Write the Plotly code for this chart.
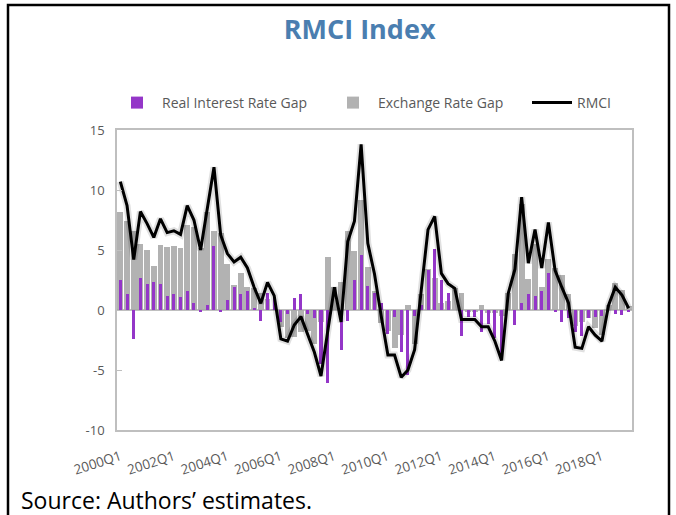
import plotly.graph_objects as go

quarters = [f"{y}Q{q}" for y in range(2000, 2020) for q in range(1, 5)][:77]

rmci = [10.7, 8.7, 4.2, 8.2, 7.2, 6.05, 7.6, 6.45, 6.6, 6.3,
        8.7, 7.5, 5.0, 8.6, 11.9, 6.25, 4.7, 4.0, 4.4, 3.5,
        1.9, 0.55, 2.3, 1.2, -2.4, -2.6, -1.25, -0.55, -2.1, -3.5,
        -5.5, -1.7, 1.9, -1.0, 5.7, 7.4, 13.8, 5.55, 3.0, -0.5,
        -3.75, -3.75, -5.6, -5.0, -3.3, 1.7, 6.7, 7.8, 3.05, 2.2,
        1.8, -0.8, -0.8, -0.8, -1.4, -1.4, -2.6, -4.2, 1.4, 3.4,
        9.4, 3.9, 6.7, 3.5, 7.3, 3.3, 1.9, 0.6, -3.1, -3.2,
        -1.4, -2.1, -2.6, 0.4, 1.9, 1.25, 0.15]

real_rate_gap = [2.5, 1.3, -2.4, 2.7, 2.2, 2.35, 2.2, 1.2, 1.3, 1.1,
                 1.6, 0.55, -0.2, 0.4, 5.3, -0.15, 0.85, 1.9, 1.3, 1.6,
                 0.1, -0.9, 1.4, 1.1, -1.0, -0.3, 1.0, 1.3, -0.35, -0.7,
                 -4.5, -6.1, 0.0, -3.3, -0.9, 2.5, 4.6, 2.0, 1.4, 0.55,
                 -2.0, -0.55, -3.5, -5.4, -0.5, 0.4, 3.3, 5.1, 2.5, 1.45,
                 0.0, -2.2, -0.6, -0.6, -1.8, -1.15, -2.35, -3.7, 0.0, -1.25,
                 0.55, 1.3, 1.2, 1.6, 3.05, -0.2, -1.0, -0.7, -1.8, -2.2,
                 -0.7, -0.6, -0.5, 0.0, -0.35, -0.4, -0.2]

exchange_rate_gap = [8.2, 7.4, 6.6, 5.5, 5.0, 3.7, 5.4, 5.25, 5.3, 5.2,
                     7.1, 6.95, 5.2, 8.2, 6.6, 6.4, 3.85, 2.1, 3.1, 1.9,
                     1.8, 1.45, 0.9, 0.1, -1.4, -2.3, -2.25, -1.85, -1.75, -2.8,
                     -1.0, 4.4, 1.9, 2.3, 6.6, 4.9, 9.2, 3.55, 1.6, -1.05,
                     -1.75, -3.2, -2.1, 0.4, -2.8, 1.3, 3.4, 2.7, 0.55, 0.75,
                     1.8, 1.4, -0.2, -0.2, 0.4, -0.25, -0.25, -0.5, 1.4, 4.65,
                     8.85, 2.6, 5.5, 1.9, 4.25, 3.5, 2.9, 1.3, -1.3, -1.0,
                     -0.7, -1.5, -2.1, 0.4, 2.25, 1.65, 0.35]

tick_labels = ["2000Q1", "2002Q1", "2004Q1", "2006Q1", "2008Q1",
               "2010Q1", "2012Q1", "2014Q1", "2016Q1", "2018Q1"]

FONT = "Open Sans, Noto Sans, sans-serif"
GREY_TXT = "#595959"

fig = go.Figure()
# grey bars drawn first (behind), purple on top
fig.add_trace(go.Bar(x=quarters, y=exchange_rate_gap, name="Exchange Rate Gap", legend="legend2",
                     marker=dict(color="rgba(165,165,165,0.85)", line=dict(width=0)), width=0.88))
fig.add_trace(go.Bar(x=quarters, y=real_rate_gap, name="Real Interest Rate Gap", legend="legend",
                     marker=dict(color="#9436C8", line=dict(width=0)), width=0.45))
# soft shadow under the line
fig.add_trace(go.Scatter(x=quarters, y=rmci, mode="lines", showlegend=False, hoverinfo="skip",
                         line=dict(color="rgba(0,0,0,0.12)", width=7)))
fig.add_trace(go.Scatter(x=quarters, y=rmci, mode="lines", name="RMCI", legend="legend3",
                         line=dict(color="black", width=3)))

leg_common = dict(orientation="h", xanchor="left", y=1.09, yanchor="middle",
                  font=dict(size=14, color=GREY_TXT), itemwidth=40,
                  bgcolor="rgba(0,0,0,0)")

fig.update_layout(
    width=676, height=515,
    margin=dict(l=117, r=44, t=130, b=85),
    paper_bgcolor="white", plot_bgcolor="white",
    barmode="overlay", bargap=0,
    font=dict(family=FONT, color=GREY_TXT, size=12),
    title=dict(text="<b>RMCI Index</b>", x=0.532, xanchor="center", y=0.942, yanchor="middle",
               font=dict(family=FONT, size=27, color="#4A7EB0")),
    legend=dict(x=(112 - 117) / 515, **leg_common),
    legend2=dict(x=(328 - 117) / 515, **leg_common),
    legend3=dict(x=(527 - 117) / 515, **leg_common),
    showlegend=True,
)

fig.update_xaxes(type="category", categoryorder="array", categoryarray=quarters,
                 tickmode="array", tickvals=tick_labels, ticktext=tick_labels,
                 tickangle=-18, tickfont=dict(size=13.5, color=GREY_TXT),
                 ticklabelstandoff=12,
                 showgrid=False, showline=True, linecolor="#BFBFBF", linewidth=1.5,
                 mirror=True, ticks="")
fig.update_yaxes(range=[-10, 15], tickvals=[-10, -5, 0, 5, 10, 15],
                 ticktext=["-10", "-5", "0", "5", "10", "15"],
                 tickfont=dict(size=13, color=GREY_TXT), ticklabelstandoff=8,
                 showgrid=False, zeroline=True, zerolinecolor="#BFBFBF", zerolinewidth=1.5,
                 showline=True, linecolor="#BFBFBF", linewidth=1.5, mirror=True,
                 ticks="inside", ticklen=5, tickcolor="#BFBFBF")

# outer frame
fig.add_shape(type="rect", xref="paper", yref="paper",
              x0=(8 - 117) / 515, x1=(669 - 117) / 515,
              y0=(430 - 530) / 300, y1=1 + (130 - 5) / 300,
              line=dict(color="black", width=2.5), fillcolor="rgba(0,0,0,0)", layer="above")

fig.add_annotation(text="Source: Authors\u2019 estimates.", xref="paper", yref="paper",
                   x=(19 - 117) / 515, xanchor="left", y=(430 - 500) / 300, yanchor="middle",
                   showarrow=False, font=dict(family=FONT, size=23, color="black"))

fig.write_html("out.html", config={"displayModeBar": False},
               post_script="document.body.style.margin='0';document.body.style.padding='0';")
